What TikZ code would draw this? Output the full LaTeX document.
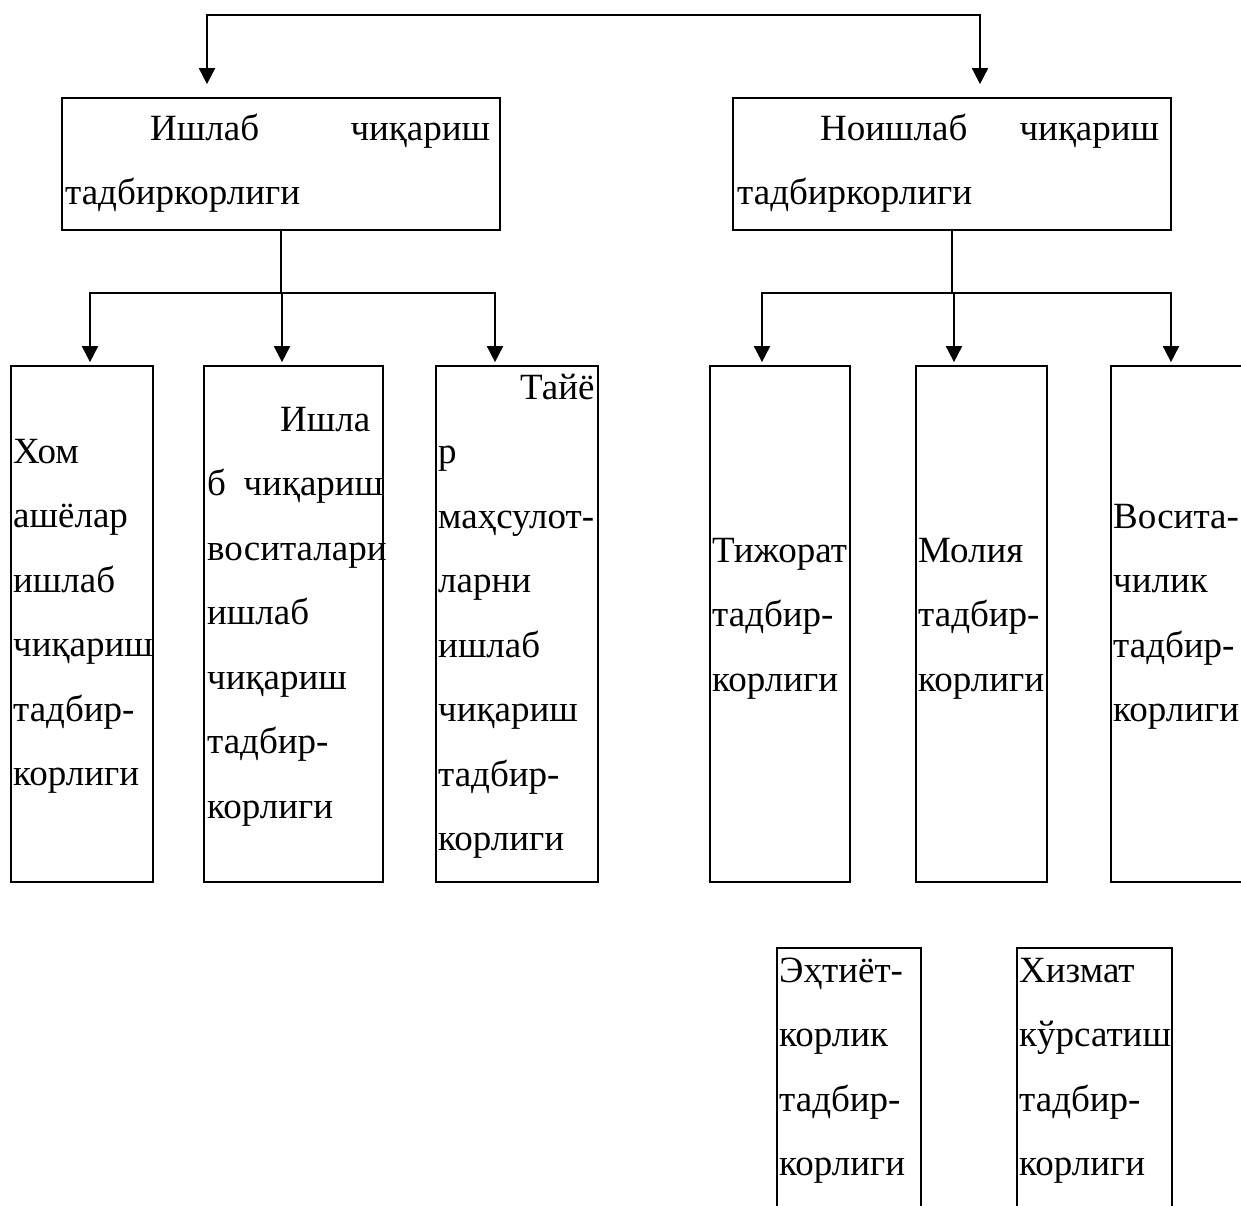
\documentclass[tikz,border=0pt]{standalone}
\usepackage{fontspec}
\setmainfont{Liberation Serif}
\usetikzlibrary{arrows.meta}
\tikzset{
  box/.style={draw=black, line width=1.7pt, inner sep=0pt},
  tall/.style={box, minimum height=516pt},
  low/.style={box, minimum height=292pt},
  lbl/.style={anchor=base west, inner sep=0pt, align=left},
  link/.style={line width=1.7pt},
  arr/.style={link, -{Triangle[width=16pt,length=16pt]}}
}
\newcommand{\bodyfont}{\fontsize{37}{64.5}\selectfont\hyphenpenalty=10000 \exhyphenpenalty=10000 }

\begin{document}
\begin{tikzpicture}[x=1pt, y=-1pt, font=\bodyfont]
  \useasboundingbox (0,0) rectangle (1241,1205);
  % two kinds of enterprise
  \node[box, minimum width=438pt, minimum height=132pt] (ishlab) at (281,164) {};
  \node[box, minimum width=438pt, minimum height=132pt] (noishlab) at (952,164) {};
  \node[lbl, text width=425pt] (ishlab-t) at (65,140) {\hspace*{85pt}Ишлаб\hfill чиқариш\\тадбиркорлиги};
  \node[lbl, text width=422pt] (noishlab-t) at (737,140) {\hspace*{83pt}Ноишлаб\hfill чиқариш\\тадбиркорлиги};

  % production branch
  \node[tall, minimum width=142pt] (hom) at (82,624) {};
  \node[tall, minimum width=179pt] (vosita) at (293.5,624) {};
  \node[tall, minimum width=162pt] (tayor) at (517,624) {};
  \node[lbl, text width=140pt] (hom-t) at (13,463) {Хом\\ашёлар\\ишлаб\\чиқариш\\тадбир-\\корлиги};
  \node[lbl, text width=176pt] (vosita-t) at (207,431) {\hspace*{73pt}Ишла\\б\hfill чиқариш\\воситалари\\ишлаб\\чиқариш\\тадбир-\\корлиги};
  \node[lbl, text width=162pt] (tayor-t) at (438,399) {\hspace*{82pt}Тайё\\р\\маҳсулот-\\ларни\\ишлаб\\чиқариш\\тадбир-\\корлиги};

  % non-production branch
  \node[tall, minimum width=140pt] (tijorat) at (780,624) {};
  \node[tall, minimum width=131pt] (moliya) at (981.5,624) {};
  \node[tall, minimum width=180pt] (vositachi) at (1201,624) {};
  \node[lbl, text width=138pt] (tijorat-t) at (712,562) {Тижорат\\тадбир-\\корлиги};
  \node[lbl, text width=128pt] (moliya-t) at (918,562) {Молия\\тадбир-\\корлиги};
  \node[lbl, text width=128pt] (vositachi-t) at (1113,528) {Восита-\\чилик\\тадбир-\\корлиги};

  % lower pair, cut off at the page edge
  \node[low, minimum width=144pt] (ehtiyot) at (849,1094) {};
  \node[low, minimum width=155pt] (xizmat) at (1094.5,1094) {};
  \node[lbl, text width=140pt] (ehtiyot-t) at (779,982) {Эҳтиёт-\\корлик\\тадбир-\\корлиги};
  \node[lbl, text width=152pt] (xizmat-t) at (1019,982) {Хизмат\\кўрсатиш\\тадбир-\\корлиги};

  % connectors
  \coordinate (top) at (595,15);
  \draw[arr, shorten >=13pt] (top) -| ([xshift=-74pt]ishlab.north);
  \draw[arr, shorten >=13pt] (top) -| ([xshift=28pt]noishlab.north);

  \coordinate (jl) at ([yshift=-62pt]ishlab.south);
  \coordinate (jr) at ([yshift=-62pt]noishlab.south);
  \draw[link] (ishlab.south) -- (jl);
  \draw[link] (noishlab.south) -- (jr);
  \foreach \n/\dx in {hom/8, vosita/-11.5, tayor/-22}
    \draw[arr, shorten >=3pt] (jl) -| ([xshift=\dx pt]\n.north);
  \foreach \n/\dx in {tijorat/-18, moliya/-27.5, vositachi/-30}
    \draw[arr, shorten >=3pt] (jr) -| ([xshift=\dx pt]\n.north);
\end{tikzpicture}
\end{document}
